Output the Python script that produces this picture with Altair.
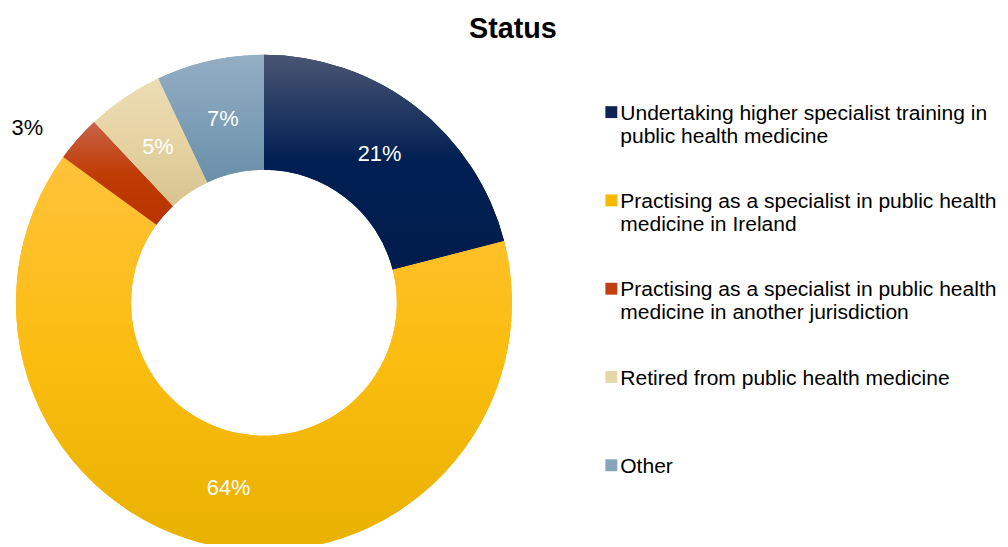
import math
import altair as alt
import pandas as pd

# ---- data ----
categories = [
    "Undertaking higher specialist training in|public health medicine",
    "Practising as a specialist in public health|medicine in Ireland",
    "Practising as a specialist in public health|medicine in another jurisdiction",
    "Retired from public health medicine",
    "Other",
]
values = [21, 64, 3, 5, 7]

# ---- styles ----
solid_colors = ["#0f2454", "#f8b800", "#c0400f", "#e6d7a8", "#86a4bb"]
gradient_stops = [
    ["#4a5573", "#001f52", "#001c4c"],
    ["#ffc23a", "#fbbd10", "#e8b100"],
    ["#c8634a", "#c03c05", "#b83300"],
    ["#ecddb3", "#e6d3a3", "#d6c38f"],
    ["#94aec3", "#7e9fb8", "#6a8fa9"],
]
CX, CY = 258, 235
R_IN, R_OUT = 134, 250

df = pd.DataFrame({"cat": categories, "value": values, "idx": list(range(len(values)))})

base = alt.Chart(df).transform_window(
    cum="sum(value)", sort=[alt.SortField("idx")], frame=[None, 0]
).transform_calculate(
    start="datum.cum - datum.value",
    mid="datum.cum - datum.value / 2",
    label="datum.value + '%'",
)

theta_scale = alt.Scale(domain=[0, 100], range=[0, 2 * math.pi])

legend = alt.Legend(
    title=None,
    orient="none",
    legendX=594,
    legendY=34,
    padding=0,
    symbolType="M-0.4,-1.3H1.6V0.7H-0.4Z",
    symbolSize=144,
    symbolStrokeWidth=0,
    symbolOpacity=1,
    labelFont="Liberation Sans",
    labelFontSize=21.2,
    labelColor="#000000",
    labelLimit=0,
    labelOffset=2,
    labelBaseline="middle",
    rowPadding=44,
    labelExpr="indexof(datum.label, '|') >= 0 ? split(datum.label, '|') : [datum.label, ' ']",
)

legend_layer = base.mark_arc(innerRadius=R_IN, outerRadius=R_OUT).encode(
    theta=alt.Theta("start:Q", scale=theta_scale),
    theta2="cum:Q",
    color=alt.Color("cat:N", scale=alt.Scale(domain=categories, range=solid_colors), legend=legend),
    x=alt.value(CX),
    y=alt.value(CY),
)

layers = [legend_layer]
for i, stops in enumerate(gradient_stops):
    grad = alt.LinearGradient(
        gradient="linear",
        stops=[
            alt.GradientStop(color=stops[0], offset=0),
            alt.GradientStop(color=stops[1], offset=0.5),
            alt.GradientStop(color=stops[2], offset=1),
        ],
        x1=0, x2=0, y1=0, y2=1,
    )
    layers.append(
        base.transform_filter(alt.datum.idx == i)
        .mark_arc(innerRadius=R_IN, outerRadius=R_OUT, fill=grad, strokeWidth=0)
        .encode(
            theta=alt.Theta("start:Q", scale=theta_scale),
            theta2="cum:Q",
            x=alt.value(CX),
            y=alt.value(CY),
        )
    )

inside = base.transform_filter("datum.value >= 4").mark_text(
    radius=190, font="Liberation Sans", fontSize=22, color="white"
).encode(
    theta=alt.Theta("mid:Q", scale=theta_scale),
    text="label:N",
    x=alt.value(CX),
    y=alt.value(CY),
)

outside = base.transform_filter("datum.value < 4").mark_text(
    radius=290, dx=-21, dy=16, font="Liberation Sans", fontSize=22, color="black"
).encode(
    theta=alt.Theta("mid:Q", scale=theta_scale),
    text="label:N",
    x=alt.value(CX),
    y=alt.value(CY),
)

chart = alt.layer(*layers, inside, outside).properties(
    width=1000,
    height=476,
    padding={"left": 0, "top": 60, "right": 0, "bottom": 0},
    autosize=alt.AutoSizeParams(type="none"),
    title=alt.TitleParams(
        "Status", font="Liberation Sans", fontSize=29, fontWeight="bold",
        color="#000000", anchor="middle", dx=9, dy=23, baseline="alphabetic", offset=11,
    ),
).configure_view(stroke=None)

chart.save("out.html", embed_options={"renderer": "svg", "actions": False})
